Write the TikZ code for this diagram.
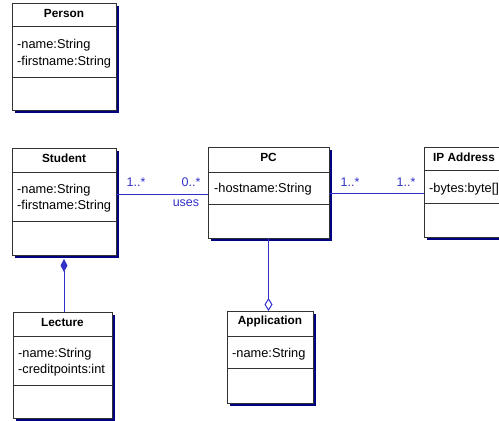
\documentclass[tikz,border=0pt]{standalone}
\usepackage{fontspec}
\setmainfont{Liberation Sans}
\usetikzlibrary{arrows.meta,shadows}
\definecolor{umlblue}{RGB}{48,48,200}
\definecolor{shadownavy}{RGB}{0,0,128}
\definecolor{boxline}{RGB}{50,50,50}
\tikzset{
  umlbox/.style={draw=boxline, line width=1pt, fill=white, anchor=north west,
    inner sep=0pt, outer sep=0pt,
    drop shadow={shadow xshift=3pt, shadow yshift=-3pt, fill=shadownavy, opacity=1}},
  umltitle/.style={font=\fontsize{11.8}{14}\selectfont\bfseries, inner sep=0pt, anchor=center},
  umlattr/.style={font=\fontsize{12.8}{16}\selectfont, inner sep=0pt, anchor=west},
  sepline/.style={draw=boxline, line width=1pt},
  assoc/.style={draw=umlblue, line width=1pt},
  mult/.style={text=umlblue, font=\fontsize{12.5}{14}\selectfont, inner sep=0pt},
}
\begin{document}
\begin{tikzpicture}[x=1pt,y=-1pt]
\path[use as bounding box, clip] (0,0) rectangle (499,421);
% Person
\node[umlbox, minimum width=104pt, minimum height=107pt] (person) at (12,3) {};
\draw[sepline] (person.west |- 0,26) -- (person.east |- 0,26);
\draw[sepline] (person.west |- 0,77) -- (person.east |- 0,77);
\node[umltitle] (person-t) at (64,13.5) {Person};
\node[umlattr] (person-a1) at (17,45) {-name:String};
\node[umlattr] (person-a2) at (17,62) {-firstname:String};
% Student
\node[umlbox, minimum width=104pt, minimum height=107pt] (student) at (12,148) {};
\draw[sepline] (student.west |- 0,172) -- (student.east |- 0,172);
\draw[sepline] (student.west |- 0,221) -- (student.east |- 0,221);
\node[umltitle] (student-t) at (64,158.5) {Student};
\node[umlattr] (student-a1) at (17,190) {-name:String};
\node[umlattr] (student-a2) at (17,206) {-firstname:String};
% PC
\node[umlbox, minimum width=121pt, minimum height=91pt] (pc) at (208,147) {};
\draw[sepline] (pc.west |- 0,172) -- (pc.east |- 0,172);
\draw[sepline] (pc.west |- 0,204) -- (pc.east |- 0,204);
\node[umltitle] (pc-t) at (268.5,157.5) {PC};
\node[umlattr] (pc-a1) at (214,189) {-hostname:String};
% IP Address
\node[umlbox, minimum width=100pt, minimum height=90pt] (ip) at (424,147) {};
\draw[sepline] (ip.west |- 0,170) -- (ip.east |- 0,170);
\draw[sepline] (ip.west |- 0,203) -- (ip.east |- 0,203);
\node[umltitle, anchor=west] (ip-t) at (433,157) {IP Address};
\node[umlattr] (ip-a1) at (429,189) {-bytes:byte[]};
% Lecture
\node[umlbox, minimum width=99pt, minimum height=106pt] (lecture) at (13,312) {};
\draw[sepline] (lecture.west |- 0,336) -- (lecture.east |- 0,336);
\draw[sepline] (lecture.west |- 0,385) -- (lecture.east |- 0,385);
\node[umltitle] (lecture-t) at (62.5,322.5) {Lecture};
\node[umlattr] (lecture-a1) at (18,354) {-name:String};
\node[umlattr] (lecture-a2) at (18,370) {-creditpoints:int};
% Application
\node[umlbox, minimum width=86pt, minimum height=92pt] (app) at (227,311) {};
\draw[sepline] (app.west |- 0,336) -- (app.east |- 0,336);
\draw[sepline] (app.west |- 0,368) -- (app.east |- 0,368);
\node[umltitle] (app-t) at (270,321.5) {Application};
\node[umlattr] (app-a1) at (232,354) {-name:String};
% connectors
\draw[assoc] (student.east |- 0,194) -- (pc.west |- 0,194);
\draw[assoc] (pc.east |- 0,193) -- (ip.west |- 0,193);
\draw[assoc, -{Diamond[width=7pt,length=13pt,fill=umlblue]}] (lecture.north -| student.south) -- ([yshift=-4pt]student.south);
\draw[assoc, -{Diamond[open,width=8pt,length=13pt,fill=white]}] (pc.south) -- (app.north -| pc.south);
% labels
\node[mult] (m1) at (136,182) {1..*};
\node[mult] (m2) at (191,182) {0..*};
\node[mult] (uses) at (186,203) {uses};
\node[mult] (m3) at (350,182) {1..*};
\node[mult] (m4) at (406,182) {1..*};
\end{tikzpicture}
\end{document}
